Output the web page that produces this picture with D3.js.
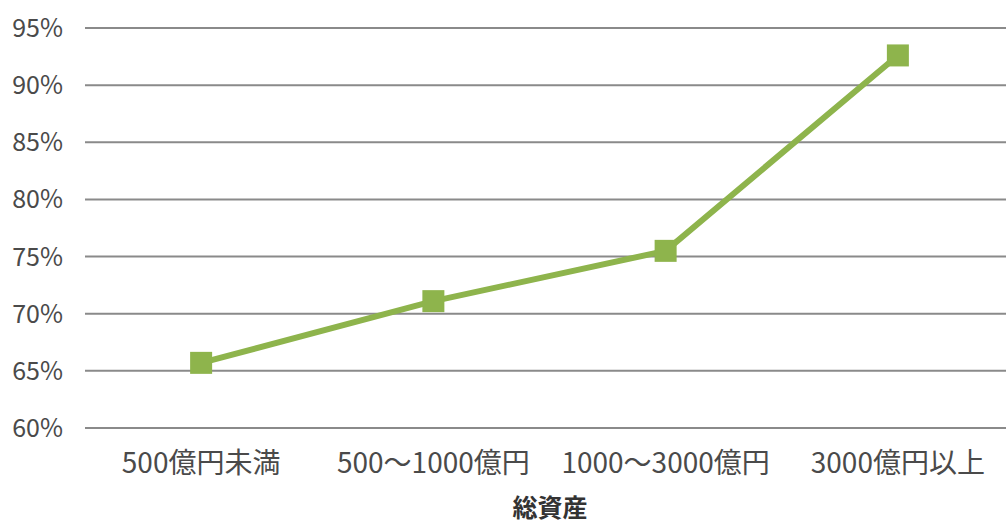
<!DOCTYPE html>
<html>
<head>
<meta charset="utf-8">
<script src="https://cdn.jsdelivr.net/npm/d3@7"></script>
<style>
  html, body { margin: 0; padding: 0; background: #fff; }
  svg { display: block; }
</style>
</head>
<body>
<svg id="chart" width="1006" height="524"></svg>
<script>
// Share by total-asset bracket
const categories = ["500億円未満", "500～1000億円", "1000～3000億円", "3000億円以上"];
const values = [65.7, 71.1, 75.5, 92.6];
const yTicks = [60, 65, 70, 75, 80, 85, 90, 95];
const axisTitle = "総資産";

const svg = d3.select("#chart");
const font = "'Noto Sans CJK JP', 'Noto Sans', sans-serif";

const x = d3.scaleBand().domain(categories).range([85, 1014]);
const y = d3.scaleLinear().domain([60, 95]).range([428, 28]);

// horizontal gridlines
svg.append("g").selectAll("line").data(yTicks).join("line")
  .attr("x1", 85).attr("x2", 1006)
  .attr("y1", d => y(d)).attr("y2", d => y(d))
  .attr("stroke", "#8a8a8a").attr("stroke-width", 2);

// y tick labels
svg.append("g").selectAll("text").data(yTicks).join("text")
  .attr("x", 63).attr("y", d => y(d))
  .attr("dy", "0.36em")
  .attr("text-anchor", "end")
  .attr("font-family", font).attr("font-size", 25)
  .attr("fill", "#4a4a4a")
  .text(d => d + "%");

// category labels
svg.append("g").selectAll("text").data(categories).join("text")
  .attr("x", d => x(d) + x.bandwidth() / 2).attr("y", 463)
  .attr("dy", "0.36em")
  .attr("text-anchor", "middle")
  .attr("font-family", font).attr("font-size", 28)
  .attr("fill", "#4a4a4a")
  .text(d => d);

// axis title
svg.append("text")
  .attr("x", 550).attr("y", 508)
  .attr("dy", "0.36em")
  .attr("text-anchor", "middle")
  .attr("font-family", font).attr("font-size", 25).attr("font-weight", "bold")
  .attr("fill", "#333")
  .text(axisTitle);

const pts = categories.map((c, i) => ({ c, v: values[i] }));
const cx = d => x(d.c) + x.bandwidth() / 2;

// series line
svg.append("path")
  .datum(pts)
  .attr("fill", "none")
  .attr("stroke", "#8eb44c")
  .attr("stroke-width", 6)
  .attr("stroke-linejoin", "round")
  .attr("d", d3.line().x(cx).y(d => y(d.v)));

// square markers
const s = 22;
svg.append("g").selectAll("rect").data(pts).join("rect")
  .attr("x", d => cx(d) - s / 2).attr("y", d => y(d.v) - s / 2)
  .attr("width", s).attr("height", s)
  .attr("fill", "#8eb44c");
</script>
</body>
</html>
